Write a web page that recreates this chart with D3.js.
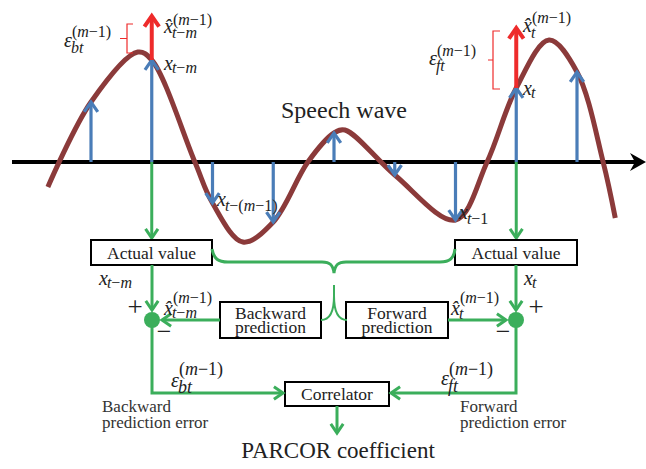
<!DOCTYPE html>
<html><head><meta charset="utf-8">
<script src="https://cdn.jsdelivr.net/npm/d3@7/dist/d3.min.js"></script>
<style>body{margin:0;background:#fff}svg{display:block}</style>
</head><body>
<svg id="c" width="646" height="469"></svg>
<script>
// ---- data ----
const sampleIdx = [0, 1, 2, 3, 4, 5, 6, 7, 8];
const sampleVal = [0.60, 1.02, -0.41, -0.60, 0.29, -0.13, -0.58, 0.74, 0.90];
const waveIdx = [-0.71, 0, 0.77, 1, 1.71, 2, 2.5, 3, 3.57, 4, 4.18, 5, 6, 6.52, 7, 7.54, 8, 8.43, 8.63];
const waveVal = [-0.25, 0.60, 1.10, 1.02, 0, -0.41, -0.80, -0.60, 0, 0.29, 0.32, -0.13, -0.58, 0, 0.74, 1.22, 0.90, 0, -0.56];
const predIdx = [1, 7];
const predVal = [1.46, 1.34];
const boxLabels = ["Actual value", "Actual value", "Backward|prediction", "Forward|prediction", "Correlator"];

const C = {wave:"#8b3a3a", blue:"#4a7db8", red:"#ee2b2b", green:"#3bae5b", black:"#000", text:"#222"};
const svg = d3.select("#c");
const x = d3.scaleLinear().domain([0, 8]).range([91, 577]);
const y = d3.scaleLinear().domain([0, 1]).range([162, 62]);
const FONT = "Liberation Serif, Times New Roman, serif";

function chevron(tx, ty, ang, len, spread) {
  const a1 = ang + Math.PI - spread, a2 = ang + Math.PI + spread;
  return `M${tx + len*Math.cos(a1)},${ty + len*Math.sin(a1)}L${tx},${ty}L${tx + len*Math.cos(a2)},${ty + len*Math.sin(a2)}`;
}
function arrow(x1, y1, x2, y2, color, w, len, spread) {
  const g = svg.append("g");
  g.append("line").attr("x1", x1).attr("y1", y1).attr("x2", x2).attr("y2", y2)
    .attr("stroke", color).attr("stroke-width", w);
  g.append("path").attr("d", chevron(x2, y2, Math.atan2(y2 - y1, x2 - x1), len || 11, spread || 0.62))
    .attr("fill", "none").attr("stroke", color).attr("stroke-width", w).attr("stroke-linejoin", "miter");
  return g;
}
function mathRuns(t, s) {
  const runs = [];
  for (const ch of s) {
    const it = /[a-zA-Z\u03b5\u0302]/.test(ch);
    if (runs.length && runs[runs.length - 1].it === it) runs[runs.length - 1].s += ch;
    else runs.push({it, s: ch});
  }
  runs.forEach(r => t.append("tspan").attr("font-style", r.it ? "italic" : "normal").text(r.s));
}
function mlabel(px, py, base, o) {
  o = o || {};
  const bs = o.bs || 20, ss = o.ss || 16;
  const g = svg.append("g").style("font-family", FONT).attr("fill", C.text);
  const t = g.append("text").attr("x", px).attr("y", py).attr("font-size", bs);
  mathRuns(t, base);
  const w = t.node().getComputedTextLength();
  if (o.sup) { const s = g.append("text").attr("x", px + w + (o.supDx || 0)).attr("y", py + (o.supDy ?? -9)).attr("font-size", ss); mathRuns(s, o.sup); }
  if (o.sub) { const s = g.append("text").attr("x", px + w + (o.subDx || -1)).attr("y", py + (o.subDy ?? 5)).attr("font-size", ss); mathRuns(s, o.sub); }
}
function txt(px, py, s, size, anchor, color) {
  svg.append("text").attr("x", px).attr("y", py).style("font-family", FONT).attr("font-size", size)
    .attr("text-anchor", anchor || "middle").attr("fill", color || C.text).text(s);
}

// ---- axis ----
svg.append("line").attr("x1", 12).attr("y1", y(0)).attr("x2", 637).attr("y2", y(0))
  .attr("stroke", C.black).attr("stroke-width", 4);
svg.append("path").attr("d", `M646,${y(0)}L630,${y(0)-9}L635,${y(0)}L630,${y(0)+9}Z`).attr("fill", C.black);

// ---- green drops from samples t-m and t ----
[1, 7].forEach(n => arrow(x(n), y(0), x(n), 238, C.green, 3, 11, 0.6));

// ---- wave ----
const wavePts = waveIdx.map((n, i) => [x(n), y(waveVal[i])]);
svg.append("path").attr("d", d3.line().curve(d3.curveCatmullRom.alpha(0.5))(wavePts))
  .attr("fill", "none").attr("stroke", C.wave).attr("stroke-width", 5);

// ---- sample stems ----
sampleIdx.forEach((n, i) => arrow(x(n), y(0), x(n), y(sampleVal[i]), C.blue, 3.2, 12, 0.6));

// ---- prediction (red) arrows ----
predIdx.forEach((n, i) => arrow(x(n), y(sampleVal[n]), x(n), y(predVal[i]), C.red, 4, 13, 0.6));

// ---- red brackets ----
function bracket(bx, y1, y2, tick, mid) {
  const ym = (y1 + y2) / 2;
  svg.append("path").attr("d", `M${bx+tick},${y1}H${bx}V${y2}H${bx+tick}M${bx},${ym}H${bx-mid}`)
    .attr("fill", "none").attr("stroke", C.red).attr("stroke-width", 1.2);
}
bracket(127, 24, 53, 6, 7);
bracket(493, 31, 89, 7, 5);

// ---- top labels ----
mlabel(64, 47, "\u03b5", {sup: "(m\u22121)", sub: "bt", supDy: -10, subDy: 6});
mlabel(164, 33, "x\u0302", {sup: "(m\u22121)", sub: "t\u2212m", supDy: -8, subDy: 5});
mlabel(164, 70, "x", {sub: "t\u2212m", subDy: 3});
mlabel(217, 206, "x", {sub: "t\u2212(m\u22121)", subDy: 5});
mlabel(459, 219, "x", {sub: "t\u22121", subDy: 5});
mlabel(523, 95, "x", {sub: "t", subDy: 3});
mlabel(523, 32, "x\u0302", {sup: "(m\u22121)", sub: "t", supDy: -9, subDy: 6});
mlabel(429, 65, "\u03b5", {sup: "(m\u22121)", sub: "ft", supDy: -9, subDy: 6});

txt(344, 118, "Speech wave", 24);

// ---- boxes ----
const boxes = [[91, 240, 121, 25], [455, 240, 122, 25], [220, 302, 101, 36], [346, 302, 102, 36], [285, 382, 104, 24]];
boxes.forEach((b, i) => {
  svg.append("rect").attr("x", b[0]).attr("y", b[1]).attr("width", b[2]).attr("height", b[3])
    .attr("fill", "#fff").attr("stroke", C.black).attr("stroke-width", 2);
  const lines = boxLabels[i].split("|");
  lines.forEach((l, j) => {
    const cy = b[1] + b[3] / 2 + 6 + (j - (lines.length - 1) / 2) * 14;
    txt(b[0] + b[2] / 2, cy, l, 17.5);
  });
});

// ---- brace ----
svg.append("path").attr("d",
  "M212,249C214,259 218,262 228,262L322,262C330,262 333,265 334,273C335,265 338,262 346,262L440,262C450,262 454,258 455,249")
  .attr("fill", "none").attr("stroke", C.green).attr("stroke-width", 3);
svg.append("path").attr("d", "M334,285V296C334,312 330,320 321,320M334,296C334,312 338,320 347,320")
  .attr("fill", "none").attr("stroke", C.green).attr("stroke-width", 2);

// ---- summing nodes and flows ----
const nodeL = [152, 320], nodeR = [516, 320];
arrow(152, 265, 152, 310, C.green, 3, 11, 0.6);
arrow(516, 265, 516, 310, C.green, 3, 11, 0.6);
arrow(220, 320, 162, 320, C.green, 3, 11, 0.6);
arrow(448, 320, 506, 320, C.green, 3, 11, 0.6);
svg.append("path").attr("d", `M152,320V393H283`).attr("fill", "none").attr("stroke", C.green).attr("stroke-width", 3);
svg.append("path").attr("d", chevron(283, 393, 0, 11, 0.6)).attr("fill", "none").attr("stroke", C.green).attr("stroke-width", 3);
svg.append("path").attr("d", `M516,320V393H391`).attr("fill", "none").attr("stroke", C.green).attr("stroke-width", 3);
svg.append("path").attr("d", chevron(391, 393, Math.PI, 11, 0.6)).attr("fill", "none").attr("stroke", C.green).attr("stroke-width", 3);
arrow(337, 406, 337, 433, C.green, 3, 11, 0.6);
[nodeL, nodeR].forEach(p => svg.append("circle").attr("cx", p[0]).attr("cy", p[1]).attr("r", 8).attr("fill", C.green));

// ---- lower labels ----
mlabel(99, 285, "x", {sub: "t\u2212m", subDy: 3});
mlabel(164, 315, "x\u0302", {sup: "(m\u22121)", sub: "t\u2212m", supDy: -12, subDy: 3});
mlabel(524, 285, "x", {sub: "t", subDy: 3});
mlabel(451, 315, "x\u0302", {sup: "(m\u22121)", sub: "t", supDy: -12, subDy: 4});
mlabel(171, 387, "\u03b5", {sup: "(m\u22121)", sub: "bt", supDy: -12, subDy: 6, ss: 18});
mlabel(441, 385, "\u03b5", {sup: "(m\u22121)", sub: "ft", supDy: -10, subDy: 7, ss: 18});
txt(135, 316, "+", 27);
txt(164, 340, "\u2212", 26);
txt(536, 316, "+", 27);
txt(503, 340, "\u2212", 26);

txt(102, 412, "Backward", 17, "start", "#333");
txt(102, 428, "prediction error", 17, "start", "#333");
txt(460, 412, "Forward", 17, "start", "#333");
txt(460, 428, "prediction error", 17, "start", "#333");
txt(338, 458, "PARCOR coefficient", 23);
</script>
</body></html>
